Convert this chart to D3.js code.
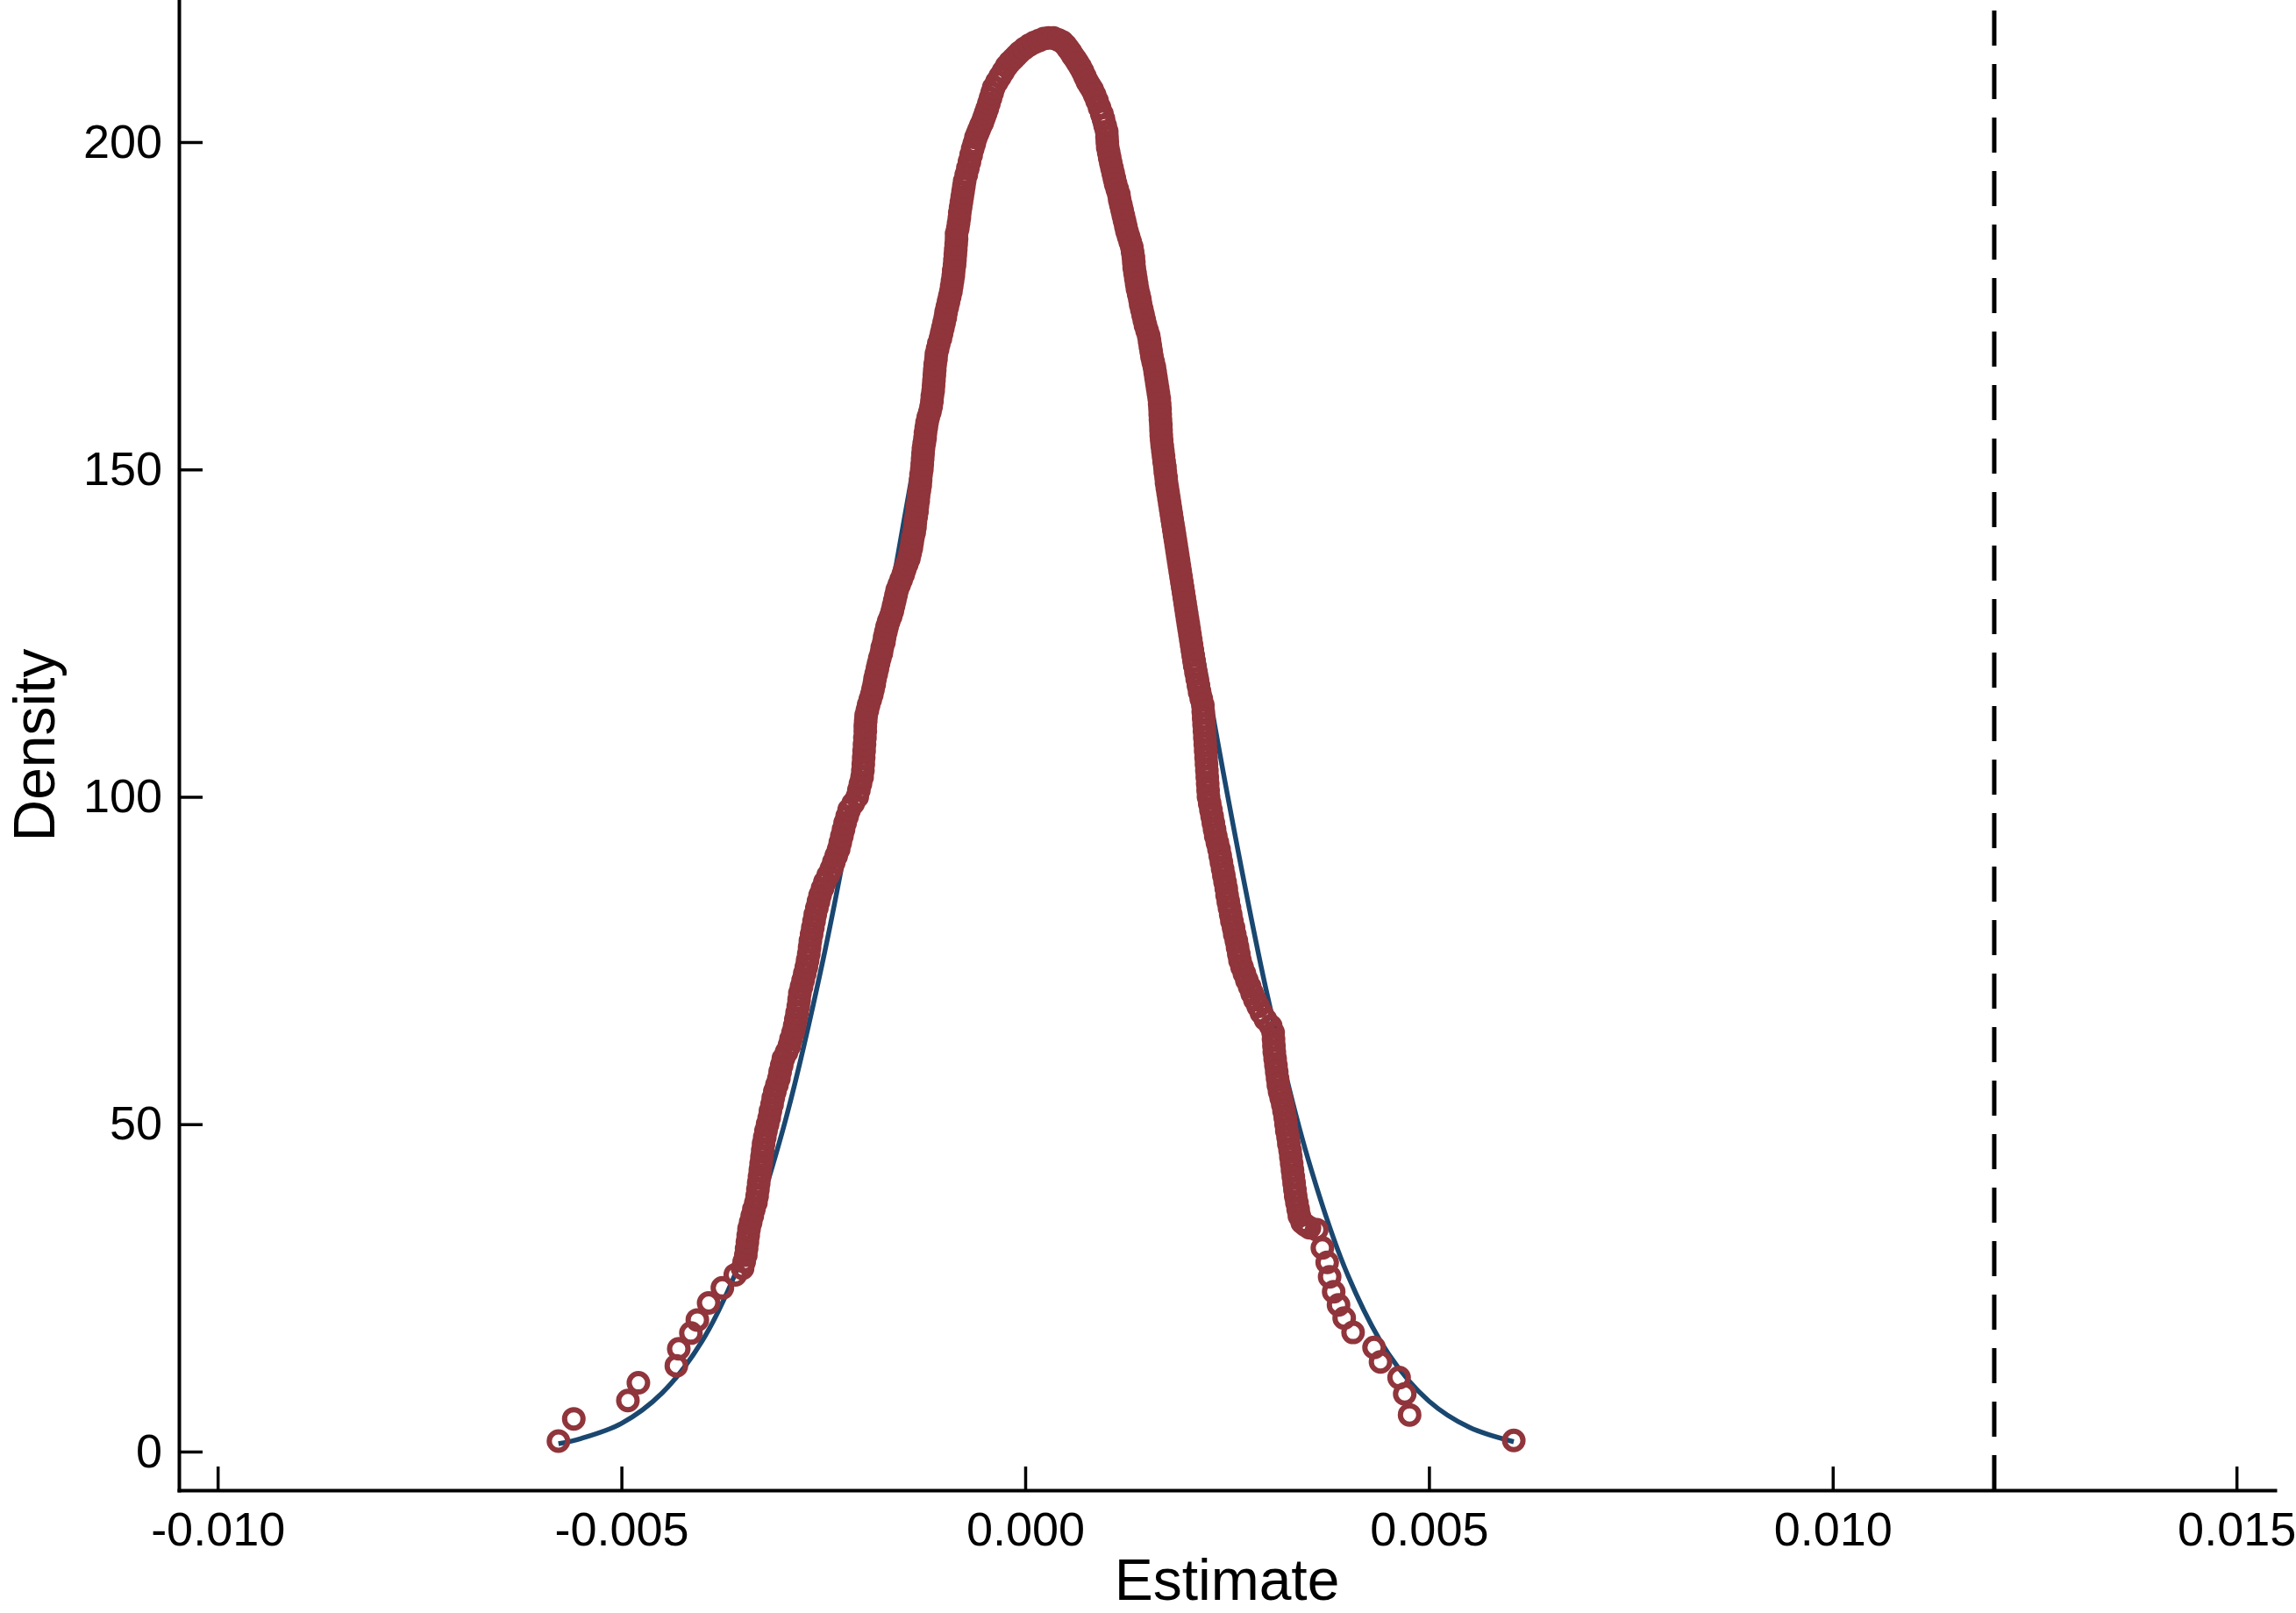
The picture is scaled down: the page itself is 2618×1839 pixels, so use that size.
<!DOCTYPE html>
<html>
<head>
<meta charset="utf-8">
<script src="https://cdn.jsdelivr.net/npm/d3@7"></script>
<style>
  html, body { margin: 0; padding: 0; background: #fff; }
  svg { display: block; }
</style>
</head>
<body>
<svg id="chart" width="2618" height="1839"></svg>
<script>
// estimates are kept in thousandths (x * 1e-3 = Estimate), density as read
var unit = 1e-3;

var xTicks = [-0.010, -0.005, 0.000, 0.005, 0.010, 0.015];
var yTicks = [0, 50, 100, 150, 200];
var refLine = 0.012;

// kernel density at each estimate (hollow circles)
var leftTail = [[-5.78,1.6],[-5.59,5.0],[-4.92,7.8],[-4.79,10.5],[-4.32,13.1],[-4.29,15.7],[-4.14,18.1],
  [-4.06,20.1],[-3.92,22.7],[-3.75,25.0],[-3.59,27.0]];

var leftFlank = [[-3.50,28],[-3.48,29],[-3.46,30],[-3.45,31],[-3.44,32],[-3.43,33],[-3.42,34],[-3.40,35],
  [-3.38,36],[-3.36,37],[-3.335,38],[-3.32,39],[-3.31,40],[-3.30,41],[-3.29,42],[-3.28,43],[-3.27,44],
  [-3.26,45],[-3.25,46],[-3.24,47],[-3.225,48],[-3.21,49],[-3.19,50],[-3.17,51],[-3.155,52],[-3.135,53],
  [-3.12,54],[-3.10,55],[-3.075,56],[-3.05,57],[-3.035,58],[-3.015,59],[-2.995,60],[-2.955,61],[-2.92,62],
  [-2.90,63],[-2.875,64],[-2.855,65],[-2.84,66],[-2.825,67],[-2.81,68],[-2.80,69],[-2.79,70],[-2.77,71],
  [-2.75,72],[-2.73,73],[-2.71,74],[-2.695,75],[-2.68,76],[-2.67,77],[-2.66,78],[-2.645,79],[-2.63,80],
  [-2.615,81],[-2.60,82],[-2.58,83],[-2.56,84],[-2.54,85],[-2.51,86],[-2.48,87],[-2.44,88],[-2.40,89],
  [-2.37,90],[-2.34,91],[-2.31,92],[-2.29,93],[-2.27,94],[-2.25,95],[-2.23,96],[-2.205,97],[-2.18,98],
  [-2.13,99],[-2.08,100],[-2.06,101],[-2.04,102],[-2.02,103],[-2.01,104],[-2.005,105],[-2.00,106],
  [-1.995,107],[-1.99,108],[-1.985,109],[-1.98,110]];

var leftShoulder = [[-1.98,110.8],[-1.975,111.6],[-1.97,112.4],[-1.955,113.2],[-1.94,114.0],[-1.92,114.8],
  [-1.90,115.6],[-1.885,116.4],[-1.87,117.2],[-1.86,118.0],[-1.845,118.8],[-1.83,119.6],[-1.815,120.4],
  [-1.80,121.2],[-1.78,122.0],[-1.77,122.8],[-1.75,123.6],[-1.74,124.4],[-1.725,125.2],[-1.71,126.0],
  [-1.69,126.8],[-1.665,127.6],[-1.645,128.4],[-1.63,129.2],[-1.615,130.0],[-1.60,130.8],[-1.585,131.6],
  [-1.56,132.4],[-1.535,133.2],[-1.51,134.0],[-1.49,134.8],[-1.465,135.6],[-1.44,136.4],[-1.425,137.2],
  [-1.41,138.0],[-1.40,138.8],[-1.39,139.6],[-1.375,140.4],[-1.365,141.2],[-1.36,142.0],[-1.35,142.8],
  [-1.34,143.6],[-1.335,144.4],[-1.325,145.2],[-1.32,146.0],[-1.31,146.8],[-1.30,147.6],[-1.295,148.4],
  [-1.29,149.2],[-1.28,150.0],[-1.275,150.8],[-1.27,151.6],[-1.265,152.4],[-1.26,153.2],[-1.25,154.0],
  [-1.24,154.8],[-1.235,155.6],[-1.225,156.4],[-1.215,157.2],[-1.20,158.0],[-1.18,158.8],[-1.165,159.6],
  [-1.155,160.4],[-1.15,161.2],[-1.14,162.0],[-1.135,162.8],[-1.13,163.6],[-1.125,164.4],[-1.12,165.2],
  [-1.115,166.0],[-1.105,166.8],[-1.10,167.6],[-1.085,168.4],[-1.07,169.2],[-1.05,170.0],[-1.035,170.8],
  [-1.02,171.6],[-1.005,172.4],[-0.99,173.2],[-0.98,174.0],[-0.965,174.8],[-0.95,175.6],[-0.935,176.4],
  [-0.92,177.2],[-0.91,178.0],[-0.90,178.8],[-0.89,179.6],[-0.885,180.4],[-0.875,181.2],[-0.87,182.0],
  [-0.865,182.8],[-0.86,183.6],[-0.855,184.4],[-0.85,185.2],[-0.85,186.0],[-0.835,186.8],[-0.825,187.6],
  [-0.815,188.4],[-0.81,189.2],[-0.80,190.0],[-0.79,190.8],[-0.78,191.6],[-0.77,192.4],[-0.76,193.2],
  [-0.75,194.0]];

var peak = [[-0.73,195.0],[-0.71,196.0],[-0.69,197.0],[-0.67,198.0],[-0.65,199.0],[-0.63,199.8],[-0.61,200.7],
  [-0.59,201.3],[-0.57,201.9],[-0.55,202.5],[-0.53,203.0],[-0.51,203.7],[-0.49,204.4],[-0.47,205.1],
  [-0.45,205.9],[-0.43,206.7],[-0.41,207.5],[-0.39,208.3],[-0.35,209.2],[-0.31,210.0],[-0.27,210.8],
  [-0.23,211.6],[-0.19,212.2],[-0.15,212.7],[-0.11,213.2],[-0.07,213.7],[-0.01,214.3],[0.05,214.8],
  [0.11,215.2],[0.17,215.5],[0.23,215.8],[0.29,215.9],[0.35,215.9],[0.41,215.6],[0.46,215.3],[0.50,214.8],
  [0.53,214.3],[0.56,213.8],[0.59,213.2],[0.62,212.7],[0.65,212.1],[0.68,211.5],[0.71,210.8],[0.74,210.0],
  [0.77,209.2],[0.80,208.6],[0.83,208.0],[0.86,207.2],[0.89,206.3],[0.92,205.3],[0.95,204.3],[0.97,203.5],
  [0.99,202.5]];

var rightShoulder = [[1.01,201.6],[1.013,200.8],[1.017,200.0],[1.022,199.2],[1.035,198.4],[1.047,197.6],
  [1.06,196.8],[1.075,196.0],[1.09,195.2],[1.105,194.4],[1.12,193.6],[1.14,192.8],[1.16,192.0],[1.17,191.2],
  [1.185,190.4],[1.20,189.6],[1.215,188.8],[1.23,188.0],[1.245,187.2],[1.26,186.4],[1.28,185.6],[1.30,184.8],
  [1.32,184.0],[1.33,183.2],[1.34,182.4],[1.345,181.6],[1.35,180.8],[1.36,180.0],[1.37,179.2],[1.38,178.4],
  [1.39,177.6],[1.405,176.8],[1.42,176.0],[1.43,175.2],[1.445,174.4],[1.46,173.6],[1.475,172.8],[1.49,172.0],
  [1.51,171.2],[1.53,170.4],[1.54,169.6],[1.55,168.8],[1.56,168.0],[1.57,167.2],[1.585,166.4],[1.60,165.6],
  [1.61,164.8],[1.62,164.0],[1.63,163.2],[1.64,162.4],[1.65,161.6],[1.66,160.8],[1.665,160.0],[1.67,159.2],
  [1.672,158.4],[1.675,157.6],[1.68,156.8],[1.682,156.0],[1.685,155.2],[1.69,154.4],[1.697,153.6],
  [1.705,152.8],[1.713,152.0],[1.72,151.2],[1.73,150.4],[1.735,149.6],[1.745,148.8],[1.75,148.0],
  [1.76,147.2],[1.77,146.4],[1.78,145.6],[1.79,144.8],[1.80,144.0],[1.81,143.2],[1.82,142.4],[1.83,141.6],
  [1.84,140.8],[1.85,140.0],[1.86,139.2],[1.87,138.4],[1.88,137.6],[1.89,136.8],[1.90,136.0],[1.91,135.2],
  [1.92,134.4],[1.93,133.6],[1.94,132.8],[1.95,132.0],[1.96,131.2],[1.97,130.4],[1.98,129.6],[1.99,128.8],
  [2.00,128.0],[2.01,127.2],[2.02,126.4],[2.03,125.6],[2.04,124.8],[2.05,124.0],[2.06,123.2],[2.07,122.4],
  [2.08,121.6],[2.09,120.8],[2.10,120.0]];

var rightFlank = [[2.115,119],[2.13,118],[2.145,117],[2.16,116],[2.18,115],[2.20,114],[2.205,113],[2.21,112],
  [2.215,111],[2.22,110],[2.225,109],[2.23,108],[2.235,107],[2.24,106],[2.245,105],[2.25,104],[2.255,103],
  [2.26,102],[2.265,101],[2.27,100],[2.285,99],[2.30,98],[2.315,97],[2.33,96],[2.345,95],[2.36,94],
  [2.38,93],[2.40,92],[2.415,91],[2.43,90],[2.445,89],[2.46,88],[2.475,87],[2.49,86],[2.50,85],[2.515,84],
  [2.53,83],[2.545,82],[2.56,81],[2.58,80],[2.595,79],[2.615,78],[2.63,77],[2.645,76],[2.66,75],[2.685,74],
  [2.715,73],[2.745,72],[2.78,71],[2.81,70],[2.845,69],[2.885,68],[2.925,67],[2.975,66],[3.04,65],
  [3.07,64],[3.075,63],[3.08,62],[3.085,61],[3.095,60],[3.105,59],[3.115,58],[3.125,57],[3.135,56],
  [3.15,55],[3.17,54],[3.19,53],[3.205,52],[3.22,51],[3.23,50],[3.24,49],[3.255,48],[3.265,47],[3.28,46],
  [3.29,45],[3.30,44],[3.31,43],[3.32,42],[3.33,41],[3.34,40],[3.35,39],[3.365,38],[3.38,37],[3.395,36],
  [3.43,35],[3.47,34.6],[3.52,34.2]];

var rightTail = [[3.61,33.9],[3.68,31.1],[3.74,28.9],[3.77,26.7],[3.82,24.4],[3.88,22.4],[3.95,20.4],
  [4.06,18.2],[4.32,15.9],[4.40,13.7],[4.63,11.3],[4.70,8.8],[4.76,5.6],[6.05,1.7]];

// fitted normal density (solid line)
var normalFit = [[-5.78,1.2],[-5.5,2.0],[-5.0,4.3],[-4.5,8.9],[-4.0,16.9],[-3.5,29.9],[-3.0,49.2],
  [-2.5,75.3],[-2.0,107.3],[-1.5,142.3],[-1.0,175.4],[-0.5,201.2],[0.0,214.7],[0.5,213.2],[1.0,196.9],
  [1.5,169.2],[2.0,135.2],[2.5,100.6],[3.0,69.6],[3.5,44.8],[4.0,26.8],[4.5,14.9],[5.0,7.7],[5.5,3.7],
  [6.05,1.5]];

var width = 2618, height = 1839;
var navy = "#1a476f", maroon = "#90353b";
var fontFamily = "'Liberation Sans', Arial, Helvetica, sans-serif";

var svg = d3.select("#chart");
svg.append("rect").attr("width", width).attr("height", height).attr("fill", "#fff");

var x = d3.scaleLinear().domain([-0.01048, 0.015476]).range([204, 2594]);
var y = d3.scaleLinear().domain([-5.9, 221.7]).range([1699, 0]);

// *********** NORMAL FIT ***************** //
svg.append("path")
  .datum(normalFit)
  .attr("fill", "none")
  .attr("stroke", navy)
  .attr("stroke-width", 5.5)
  .attr("d", d3.line()
    .x(function(d) { return x(d[0] * unit); })
    .y(function(d) { return y(d[1]); })
    .curve(d3.curveCatmullRom));

// *********** KDENSITY MARKERS ***************** //
var points = [].concat(leftTail, leftFlank, leftShoulder, peak, rightShoulder, rightFlank, rightTail);

svg.append("g")
  .selectAll("circle")
  .data(points)
  .join("circle")
  .attr("cx", function(d) { return x(d[0] * unit); })
  .attr("cy", function(d) { return y(d[1]); })
  .attr("r", 10.5)
  .attr("fill", "none")
  .attr("stroke", maroon)
  .attr("stroke-width", 6);

// *********** REFERENCE LINE ***************** //
svg.append("line")
  .attr("x1", x(refLine))
  .attr("x2", x(refLine))
  .attr("y1", y.range()[0])
  .attr("y2", 0)
  .attr("stroke", "#000")
  .attr("stroke-width", 5)
  .attr("stroke-dasharray", "40 21");

// *********** AXES ***************** //
var xAxis = d3.axisBottom(x)
  .tickValues(xTicks)
  .tickFormat(function(d) { return d.toFixed(3); })
  .tickSizeInner(-27)
  .tickSizeOuter(0)
  .tickPadding(25);

var yAxis = d3.axisLeft(y)
  .tickValues(yTicks)
  .tickFormat(d3.format("d"))
  .tickSizeInner(-27)
  .tickSizeOuter(0)
  .tickPadding(19);

var gx = svg.append("g")
  .attr("transform", "translate(0," + y.range()[0] + ")")
  .call(xAxis);

var gy = svg.append("g")
  .attr("transform", "translate(" + x.range()[0] + ",0)")
  .call(yAxis);

[gx, gy].forEach(function(g) {
  g.attr("font-family", fontFamily).attr("font-size", 54);
  g.select(".domain").attr("stroke", "#000").attr("stroke-width", 4).attr("stroke-linecap", "square");
  g.selectAll(".tick line").attr("stroke", "#000").attr("stroke-width", 3.5);
  g.selectAll(".tick text").attr("fill", "#000");
});

svg.append("text")
  .attr("x", (x.range()[0] + x.range()[1]) / 2)
  .attr("y", 1824)
  .attr("text-anchor", "middle")
  .style("font-family", fontFamily)
  .style("font-size", "66px")
  .text("Estimate");

svg.append("text")
  .attr("transform", "translate(62," + (y.range()[0] / 2) + ") rotate(-90)")
  .attr("text-anchor", "middle")
  .style("font-family", fontFamily)
  .style("font-size", "66px")
  .text("Density");
</script>
</body>
</html>
